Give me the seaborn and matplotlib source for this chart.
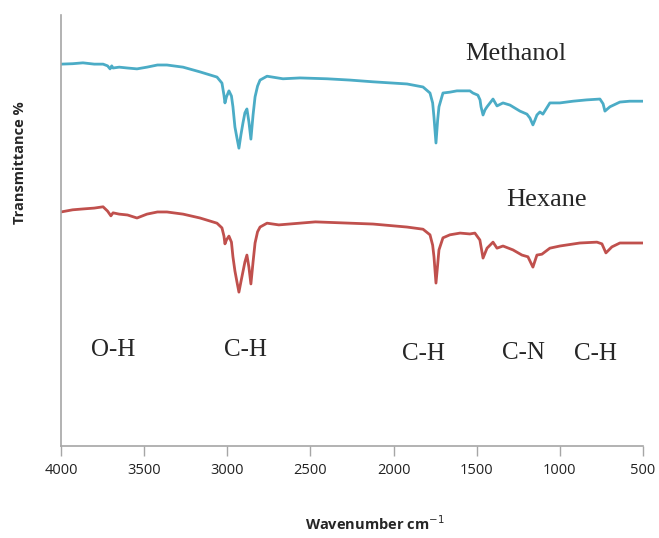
import matplotlib
matplotlib.use("Agg")
import matplotlib.pyplot as plt
import seaborn as sns
import pandas as pd

# ---- data ----
methanol_wn = [4000, 3930, 3868, 3800, 3747, 3720, 3705, 3695, 3687, 3650,
               3600, 3543, 3483, 3420, 3363, 3266, 3164, 3062, 3032, 3020,
               3014, 3005, 2990, 2975, 2966, 2954, 2942, 2930, 2918, 2906,
               2894, 2882, 2870, 2858, 2845, 2833, 2818, 2803, 2761, 2665,
               2563, 2400, 2262, 2124, 1919, 1823, 1781, 1765, 1757, 1745,
               1735, 1727, 1703, 1661, 1619, 1580, 1541, 1523, 1493, 1480,
               1474, 1462, 1450, 1438, 1402, 1378, 1342, 1300, 1240, 1198,
               1180, 1162, 1150, 1138, 1120, 1102, 1060, 1000, 921, 840,
               759, 740, 729, 699, 639, 580, 518, 500]
methanol_t = [88.6, 88.7, 88.9, 88.6, 88.6, 88.2, 87.5, 88.2, 87.7, 87.9,
              87.7, 87.5, 87.9, 88.4, 88.4, 87.9, 86.8, 85.6, 84.2, 81.4,
              79.6, 81.0, 82.4, 81.2, 78.7, 74.0, 71.5, 69.1, 72.2, 74.9,
              77.3, 78.2, 75.2, 71.2, 76.8, 81.0, 83.5, 84.9, 85.8, 85.2,
              85.4, 85.2, 84.9, 84.5, 84.0, 83.3, 81.9, 79.6, 76.3, 70.3,
              75.6, 78.7, 81.9, 82.1, 82.4, 82.4, 82.4, 81.9, 81.4, 80.3,
              78.7, 76.8, 78.0, 78.7, 80.5, 78.9, 79.6, 79.1, 77.7, 77.0,
              76.1, 74.5, 75.6, 76.8, 77.5, 77.0, 79.6, 79.6, 80.0, 80.3,
              80.5, 79.4, 77.7, 78.7, 79.8, 80.0, 80.0, 80.0]

hexane_wn = [4000, 3930, 3868, 3800, 3747, 3720, 3700, 3687, 3650, 3600,
             3543, 3483, 3420, 3363, 3266, 3164, 3062, 3032, 3020, 3014,
             3005, 2990, 2975, 2966, 2954, 2942, 2930, 2918, 2906, 2894,
             2882, 2870, 2858, 2845, 2833, 2818, 2803, 2761, 2690, 2470,
             2262, 2124, 1919, 1823, 1781, 1765, 1757, 1745, 1735, 1727,
             1703, 1661, 1600, 1541, 1511, 1481, 1462, 1438, 1402, 1378,
             1342, 1282, 1228, 1192, 1162, 1138, 1108, 1060, 1000, 880,
             777, 747, 723, 687, 639, 518, 500]
hexane_t = [54.3, 54.8, 55.0, 55.2, 55.5, 54.5, 53.4, 54.1, 53.8, 53.6,
            52.9, 53.8, 54.3, 54.3, 53.8, 52.9, 51.7, 50.6, 48.7, 46.9,
            47.8, 48.7, 47.3, 43.9, 40.6, 38.1, 35.7, 38.1, 40.4, 42.7,
            44.3, 41.5, 37.6, 42.7, 47.1, 49.7, 50.8, 51.7, 51.3, 52.0,
            51.7, 51.5, 50.8, 50.3, 49.0, 46.6, 43.9, 37.8, 42.0, 45.5,
            48.3, 49.0, 49.4, 49.2, 49.4, 47.8, 43.6, 45.9, 47.3, 45.9,
            46.4, 45.5, 44.3, 43.9, 41.5, 44.3, 44.5, 45.9, 46.4, 47.1,
            47.3, 46.9, 44.8, 46.2, 47.1, 47.1, 47.1]

series_names = ["Methanol", "Hexane"]
series_colors = ["#4BACC6", "#C0504D"]
x_ticks = [4000, 3500, 3000, 2500, 2000, 1500, 1000, 500]
band_labels = ["O-H", "C-H", "C-H", "C-N", "C-H"]
band_x = [3687, 2888, 1823, 1222, 783]
band_y = [22.3, 22.3, 21.3, 21.6, 21.3]
series_label_x = [1264, 1078]
series_label_y = [91.0, 57.1]

df = pd.concat([
    pd.DataFrame({"Wavenumber": methanol_wn, "T": methanol_t, "Sample": series_names[0]}),
    pd.DataFrame({"Wavenumber": hexane_wn, "T": hexane_t, "Sample": series_names[1]}),
])

sns.set_theme(style="white")
plt.rcParams["font.family"] = ["DejaVu Sans"]

fig = plt.figure(figsize=(6.59, 5.38), dpi=100)
ax = fig.add_axes([61 / 659, 1 - 446 / 538, 582 / 659, 431 / 538])

sns.lineplot(data=df, x="Wavenumber", y="T", hue="Sample",
             palette=dict(zip(series_names, series_colors)),
             estimator=None, sort=False, linewidth=2.0, legend=False, ax=ax)

ax.set_xlim(4000, 500)
ax.set_ylim(0, 100)
ax.set_xticks(x_ticks)
ax.set_xticklabels([str(t) for t in x_ticks], fontsize=10.5,
                   family=["Open Sans", "DejaVu Sans"], color="#222222")
ax.set_yticks([])
ax.tick_params(axis="x", direction="out", length=7, width=1, color="#A6A6A6",
               pad=5, bottom=True)

for s in ["top", "right"]:
    ax.spines[s].set_visible(False)
for s in ["left", "bottom"]:
    ax.spines[s].set_color("#A6A6A6")
    ax.spines[s].set_linewidth(1.2)

ax.set_xlabel("")
ax.set_ylabel("")
fig.text(375 / 659, 1 - 524 / 538, "Wavenumber cm$^{-1}$", ha="center", va="center",
         fontsize=10.5, fontweight="bold", family=["Open Sans", "DejaVu Sans"])
fig.text(20 / 659, 1 - 163 / 538, "Transmittance %", ha="center", va="center",
         rotation=90, fontsize=10.5, fontweight="bold",
         family=["Open Sans", "DejaVu Sans"])

serif = ["Liberation Serif", "DejaVu Serif"]
for name, sx, sy in zip(series_names, series_label_x, series_label_y):
    ax.text(sx, sy, name, ha="center", va="center", fontsize=19, family=serif)
for lab, bx, by in zip(band_labels, band_x, band_y):
    ax.text(bx, by, lab, ha="center", va="center", fontsize=18, family=serif)

fig.savefig("out.png", dpi=100)
